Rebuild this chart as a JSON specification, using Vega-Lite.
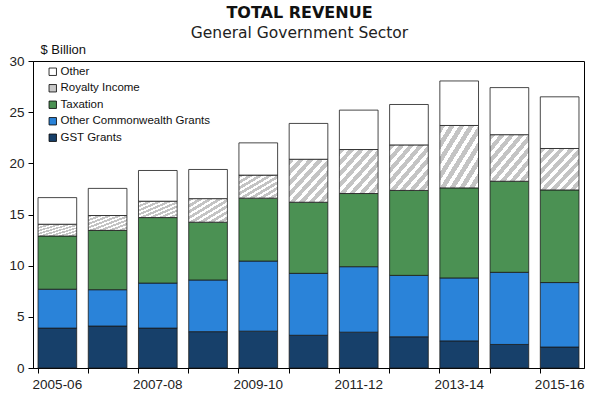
{
  "$schema": "https://vega.github.io/schema/vega-lite/v6.json",
  "width": 551,
  "height": 307,
  "autosize": {"type": "none"},
  "padding": {"left": 33, "top": 61, "right": 16, "bottom": 26},
  "background": "white",
  "title": {
    "text": "TOTAL REVENUE",
    "subtitle": "General Government Sector",
    "anchor": "middle",
    "frame": "group",
    "dx": -9,
    "offset": 2,
    "font": "DejaVu Sans",
    "fontSize": 16,
    "fontWeight": "bold",
    "color": "#111",
    "subtitleFont": "DejaVu Sans",
    "subtitleFontSize": 15.5,
    "subtitleColor": "#222",
    "subtitlePadding": 5
  },
  "config": {
    "view": {"stroke": "#000", "strokeWidth": 1},
    "font": "Liberation Sans"
  },
  "data": {
    "values": [
      {"year": "2005-06", "cat": "GST Grants", "value": 3.9},
      {"year": "2005-06", "cat": "Other Commonwealth Grants", "value": 3.8},
      {"year": "2005-06", "cat": "Taxation", "value": 5.2},
      {"year": "2005-06", "cat": "Royalty Income", "value": 1.15},
      {"year": "2005-06", "cat": "Other", "value": 2.6},
      {"year": "2006-07", "cat": "GST Grants", "value": 4.1},
      {"year": "2006-07", "cat": "Other Commonwealth Grants", "value": 3.55},
      {"year": "2006-07", "cat": "Taxation", "value": 5.8},
      {"year": "2006-07", "cat": "Royalty Income", "value": 1.45},
      {"year": "2006-07", "cat": "Other", "value": 2.65},
      {"year": "2007-08", "cat": "GST Grants", "value": 3.9},
      {"year": "2007-08", "cat": "Other Commonwealth Grants", "value": 4.4},
      {"year": "2007-08", "cat": "Taxation", "value": 6.4},
      {"year": "2007-08", "cat": "Royalty Income", "value": 1.6},
      {"year": "2007-08", "cat": "Other", "value": 3.0},
      {"year": "2008-09", "cat": "GST Grants", "value": 3.55},
      {"year": "2008-09", "cat": "Other Commonwealth Grants", "value": 5.05},
      {"year": "2008-09", "cat": "Taxation", "value": 5.65},
      {"year": "2008-09", "cat": "Royalty Income", "value": 2.3},
      {"year": "2008-09", "cat": "Other", "value": 2.85},
      {"year": "2009-10", "cat": "GST Grants", "value": 3.6},
      {"year": "2009-10", "cat": "Other Commonwealth Grants", "value": 6.85},
      {"year": "2009-10", "cat": "Taxation", "value": 6.15},
      {"year": "2009-10", "cat": "Royalty Income", "value": 2.25},
      {"year": "2009-10", "cat": "Other", "value": 3.15},
      {"year": "2010-11", "cat": "GST Grants", "value": 3.2},
      {"year": "2010-11", "cat": "Other Commonwealth Grants", "value": 6.05},
      {"year": "2010-11", "cat": "Taxation", "value": 6.95},
      {"year": "2010-11", "cat": "Royalty Income", "value": 4.2},
      {"year": "2010-11", "cat": "Other", "value": 3.5},
      {"year": "2011-12", "cat": "GST Grants", "value": 3.5},
      {"year": "2011-12", "cat": "Other Commonwealth Grants", "value": 6.4},
      {"year": "2011-12", "cat": "Taxation", "value": 7.15},
      {"year": "2011-12", "cat": "Royalty Income", "value": 4.3},
      {"year": "2011-12", "cat": "Other", "value": 3.85},
      {"year": "2012-13", "cat": "GST Grants", "value": 3.05},
      {"year": "2012-13", "cat": "Other Commonwealth Grants", "value": 6.0},
      {"year": "2012-13", "cat": "Taxation", "value": 8.3},
      {"year": "2012-13", "cat": "Royalty Income", "value": 4.45},
      {"year": "2012-13", "cat": "Other", "value": 3.95},
      {"year": "2013-14", "cat": "GST Grants", "value": 2.65},
      {"year": "2013-14", "cat": "Other Commonwealth Grants", "value": 6.15},
      {"year": "2013-14", "cat": "Taxation", "value": 8.8},
      {"year": "2013-14", "cat": "Royalty Income", "value": 6.1},
      {"year": "2013-14", "cat": "Other", "value": 4.35},
      {"year": "2014-15", "cat": "GST Grants", "value": 2.3},
      {"year": "2014-15", "cat": "Other Commonwealth Grants", "value": 7.05},
      {"year": "2014-15", "cat": "Taxation", "value": 8.9},
      {"year": "2014-15", "cat": "Royalty Income", "value": 4.55},
      {"year": "2014-15", "cat": "Other", "value": 4.6},
      {"year": "2015-16", "cat": "GST Grants", "value": 2.05},
      {"year": "2015-16", "cat": "Other Commonwealth Grants", "value": 6.3},
      {"year": "2015-16", "cat": "Taxation", "value": 9.05},
      {"year": "2015-16", "cat": "Royalty Income", "value": 4.05},
      {"year": "2015-16", "cat": "Other", "value": 5.05}
    ]
  },
  "transform": [
    {
      "lookup": "cat",
      "from": {
        "data": {
          "values": [
            {"cat": "GST Grants", "rank": 1},
            {"cat": "Other Commonwealth Grants", "rank": 2},
            {"cat": "Taxation", "rank": 3},
            {"cat": "Royalty Income", "rank": 4},
            {"cat": "Other", "rank": 5}
          ]
        },
        "key": "cat",
        "fields": ["rank"]
      }
    }
  ],
  "mark": {"type": "bar", "stroke": "#1a1a1a", "strokeWidth": 0.8},
  "encoding": {
    "x": {
      "field": "year",
      "type": "ordinal",
      "scale": {"paddingInner": 0.23, "paddingOuter": 0.1},
      "axis": {
        "title": null,
        "labelAngle": 0,
        "bandPosition": 0,
        "labelExpr": "indexof(['2005-06','2007-08','2009-10','2011-12','2013-14','2015-16'], datum.value) >= 0 ? datum.value : ''",
        "labelFontSize": 13.5,
        "labelColor": "#222",
        "labelPadding": 4,
        "tickColor": "#000",
        "tickSize": 5,
        "domainColor": "#000"
      }
    },
    "y": {
      "field": "value",
      "type": "quantitative",
      "stack": "zero",
      "scale": {"domain": [0, 30], "nice": false},
      "axis": {
        "values": [0, 5, 10, 15, 20, 25, 30],
        "grid": false,
        "title": "$ Billion",
        "titleAngle": 0,
        "titleAlign": "left",
        "titleBaseline": "alphabetic",
        "titleX": 7,
        "titleY": -8,
        "titleFontWeight": "normal",
        "titleFontSize": 13,
        "titleColor": "#111",
        "labelFontSize": 13.5,
        "labelColor": "#222",
        "labelPadding": 4,
        "tickColor": "#000",
        "tickSize": 5,
        "domainColor": "#000"
      }
    },
    "order": {"field": "rank", "type": "quantitative", "sort": "ascending"},
    "color": {
      "condition": {
        "test": "datum.cat === 'Royalty Income'",
        "value": {
          "gradient": "linear",
          "x1": 0, "y1": 0, "x2": 1, "y2": 1,
          "stops": [
            {"offset": 0, "color": "#c4c4c4"}, {"offset": 0.07, "color": "#c4c4c4"}, {"offset": 0.07, "color": "#ffffff"}, {"offset": 0.125, "color": "#ffffff"},
            {"offset": 0.125, "color": "#c4c4c4"}, {"offset": 0.195, "color": "#c4c4c4"}, {"offset": 0.195, "color": "#ffffff"}, {"offset": 0.25, "color": "#ffffff"},
            {"offset": 0.25, "color": "#c4c4c4"}, {"offset": 0.32, "color": "#c4c4c4"}, {"offset": 0.32, "color": "#ffffff"}, {"offset": 0.375, "color": "#ffffff"},
            {"offset": 0.375, "color": "#c4c4c4"}, {"offset": 0.445, "color": "#c4c4c4"}, {"offset": 0.445, "color": "#ffffff"}, {"offset": 0.5, "color": "#ffffff"},
            {"offset": 0.5, "color": "#c4c4c4"}, {"offset": 0.57, "color": "#c4c4c4"}, {"offset": 0.57, "color": "#ffffff"}, {"offset": 0.625, "color": "#ffffff"},
            {"offset": 0.625, "color": "#c4c4c4"}, {"offset": 0.695, "color": "#c4c4c4"}, {"offset": 0.695, "color": "#ffffff"}, {"offset": 0.75, "color": "#ffffff"},
            {"offset": 0.75, "color": "#c4c4c4"}, {"offset": 0.82, "color": "#c4c4c4"}, {"offset": 0.82, "color": "#ffffff"}, {"offset": 0.875, "color": "#ffffff"},
            {"offset": 0.875, "color": "#c4c4c4"}, {"offset": 0.945, "color": "#c4c4c4"}, {"offset": 0.945, "color": "#ffffff"}, {"offset": 1, "color": "#ffffff"}
          ]
        }
      },
      "field": "cat",
      "type": "nominal",
      "scale": {
        "domain": ["GST Grants", "Other Commonwealth Grants", "Taxation", "Royalty Income", "Other"],
        "range": ["#17406a", "#2a83d9", "#4b9153", "#c8c8c8", "#ffffff"]
      },
      "legend": {
        "title": null,
        "orient": "none",
        "legendX": 14,
        "legendY": 5,
        "values": ["Other", "Royalty Income", "Taxation", "Other Commonwealth Grants", "GST Grants"],
        "symbolType": "square",
        "symbolSize": 55,
        "symbolStrokeColor": "#000",
        "symbolStrokeWidth": 0.8,
        "symbolOpacity": 1,
        "labelFontSize": 11.5,
        "labelColor": "#111",
        "labelOffset": 2,
        "rowPadding": 3.5
      }
    }
  }
}
